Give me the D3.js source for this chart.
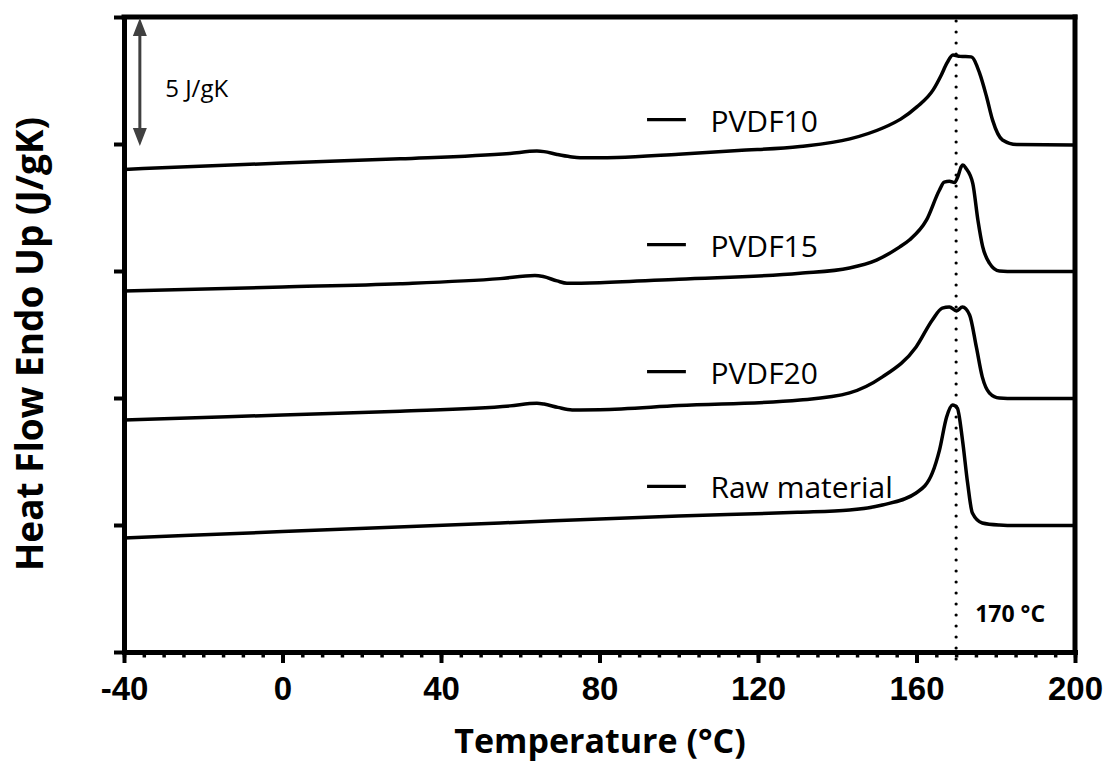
<!DOCTYPE html>
<html>
<head>
<meta charset="utf-8">
<script src="https://cdn.jsdelivr.net/npm/d3@7"></script>
<style>
  body { margin: 0; background: #fff; }
</style>
</head>
<body>
<div class="chart"></div>
<script>
// DSC heating curves: [temperature °C, heat flow J/gK (stacked offsets)]
const pvdf10 = [
  [-40, 19.0], [0, 19.25], [29.7, 19.42], [57.4, 19.63], [64.2, 19.72], [66, 19.7],
  [69.3, 19.59], [72.6, 19.5], [75.1, 19.46], [80.1, 19.46], [84.4, 19.47], [100, 19.6],
  [115, 19.74], [130.6, 19.9], [143.2, 20.2], [151.5, 20.63], [156, 20.98], [160.1, 21.46],
  [164.2, 22.13], [166.2, 22.7], [167.7, 23.19], [169.2, 23.5], [171, 23.45], [173.8, 23.43],
  [175.9, 22.8], [177.7, 21.85], [179.2, 20.94], [181.7, 20.16], [185.3, 19.98], [200, 19.96]
];
const pvdf15 = [
  [-40, 14.21], [0, 14.37], [29.7, 14.5], [54.9, 14.7], [63.7, 14.82], [65.8, 14.78],
  [69.3, 14.61], [71.8, 14.52], [80.1, 14.54], [100, 14.68], [130.6, 14.91], [143.1, 15.12],
  [149.9, 15.43], [155.7, 15.94], [158.2, 16.22], [162.5, 17.0], [165.8, 18.19], [167.0, 18.5],
  [168.3, 18.53], [169.6, 18.48], [170.4, 18.7], [171.3, 19.11], [171.7, 19.17], [172.5, 19.04],
  [174.2, 18.45], [175.5, 17.0], [176.7, 15.96], [178.4, 15.31], [180.9, 15.0], [185, 14.98],
  [200, 14.98]
];
const pvdf20 = [
  [-40, 9.13], [0, 9.33], [29.7, 9.48], [57.4, 9.69], [64.2, 9.79], [66, 9.76],
  [69.5, 9.63], [73.1, 9.53], [80.1, 9.54], [100, 9.7], [130.6, 9.92], [143.1, 10.2],
  [151.4, 10.83], [159.9, 12.01], [164, 13.07], [166.5, 13.54], [168.3, 13.58], [170.1, 13.43],
  [171.6, 13.58], [173.4, 13.27], [175.1, 12.01], [176.6, 10.83], [178.4, 10.2], [180.9, 10.0],
  [185, 9.98], [200, 9.98]
];
const rawMaterial = [
  [-40, 4.49], [0, 4.74], [55, 5.08], [100, 5.35], [130, 5.5], [143.1, 5.59],
  [151.4, 5.79], [159.9, 6.26], [164, 7.05], [165.8, 7.95], [167.6, 9.25], [169.1, 9.72],
  [170.3, 9.6], [171.6, 8.35], [172.9, 6.65], [174.1, 5.47], [176.6, 5.08], [180.9, 5.0],
  [185, 4.98], [200, 4.98]
];
const seriesNames = ["PVDF10", "PVDF15", "PVDF20", "Raw material"];
const xTicks = [-40, 0, 40, 80, 120, 160, 200];
const yTicks = [0, 5, 10, 15, 20, 25];

const series = [pvdf10, pvdf15, pvdf20, rawMaterial];

const margin = {top: 17, right: 32, bottom: 110, left: 124};
const width = 1107 - margin.left - margin.right,
      height = 762 - margin.top - margin.bottom;

const xScale = d3.scaleLinear().domain([-40, 200]).range([0, width]);
const yScale = d3.scaleLinear().domain([0, 25]).range([height, 0]);

const svg = d3.select(".chart").append("svg")
    .attr("width", width + margin.left + margin.right)
    .attr("height", height + margin.top + margin.bottom)
  .append("g")
    .attr("transform", "translate(" + margin.left + "," + margin.top + ")");

// minor x ticks
svg.append("g")
    .attr("transform", "translate(0," + height + ")")
    .call(d3.axisBottom(xScale).tickValues(d3.range(-40, 201, 5)).tickSize(5.5).tickSizeOuter(0).tickFormat(""))
    .call(g => g.select(".domain").remove())
    .selectAll(".tick line").attr("stroke", "black").attr("stroke-width", 3.5);

// major x axis
svg.append("g")
    .attr("class", "x-axis")
    .attr("transform", "translate(0," + height + ")")
    .call(d3.axisBottom(xScale).tickValues(xTicks).tickSize(11).tickSizeOuter(0).tickFormat(d => String(d)))
    .call(g => g.select(".domain").attr("stroke-width", 5).attr("stroke-linecap", "square"))
    .call(g => g.selectAll(".tick line").attr("stroke-width", 4))
    .selectAll(".tick text")
      .attr("y", 48)
      .attr("dy", null)
      .attr("fill", "black")
      .attr("font-family", "Liberation Sans, Arial, sans-serif")
      .attr("font-weight", "bold")
      .attr("font-size", 33);

// y axis (no labels)
svg.append("g")
    .attr("class", "y-axis")
    .call(d3.axisLeft(yScale).tickValues(yTicks).tickSize(10).tickSizeOuter(0).tickFormat(""))
    .call(g => g.select(".domain").attr("stroke-width", 5).attr("stroke-linecap", "square"))
    .call(g => g.selectAll(".tick line").attr("stroke-width", 4));

// top and right frame
svg.append("line")
    .attr("x1", 0).attr("x2", width).attr("y1", 0).attr("y2", 0)
    .attr("stroke", "black").attr("stroke-width", 5).attr("stroke-linecap", "square");
svg.append("line")
    .attr("x1", width).attr("x2", width).attr("y1", 0).attr("y2", height)
    .attr("stroke", "black").attr("stroke-width", 5).attr("stroke-linecap", "square");

// 170 °C marker
svg.append("line")
    .attr("x1", xScale(170)).attr("x2", xScale(170))
    .attr("y1", 4).attr("y2", height + 8)
    .attr("stroke", "black")
    .attr("stroke-width", 3.2)
    .attr("stroke-linecap", "round")
    .attr("stroke-dasharray", "0,11");

svg.append("text")
    .attr("x", xScale(174.8))
    .attr("y", height - 30)
    .attr("font-family", "Open Sans, sans-serif")
    .attr("font-weight", "bold")
    .attr("font-size", 23)
    .text("170 °C");

// curves
const line = d3.line()
    .x(d => xScale(d[0]))
    .y(d => yScale(d[1]))
    .curve(d3.curveMonotoneX);

svg.append("g")
    .attr("fill", "none")
    .attr("stroke", "black")
    .attr("stroke-width", 3.5)
    .attr("stroke-linejoin", "round")
  .selectAll("path")
  .data(series)
  .join("path")
    .attr("d", line);

// labels, sitting just above each curve's right baseline
const labelLift = [1.0, 1.06, 1.06, 1.54];
const label = svg.append("g")
  .selectAll("g")
  .data(seriesNames)
  .join("g")
    .attr("transform", (d, i) => {
      const s = series[i];
      return "translate(0," + yScale(s[s.length - 1][1] + labelLift[i]) + ")";
    });
label.append("line")
    .attr("x1", xScale(92)).attr("x2", xScale(101.8))
    .attr("stroke", "black").attr("stroke-width", 3.2);
label.append("text")
    .attr("x", xScale(108))
    .attr("y", 12)
    .attr("font-family", "Open Sans, sans-serif")
    .attr("font-size", 30)
    .text(d => d);

// scale bar: 5 J/gK
const ax = xScale(-36), aTop = yScale(25) + 1, aBot = yScale(20) + 2;
svg.append("line")
    .attr("x1", ax).attr("x2", ax)
    .attr("y1", aTop + 16).attr("y2", aBot - 16)
    .attr("stroke", "#404040").attr("stroke-width", 3);
svg.append("path")
    .attr("fill", "#404040")
    .attr("d", "M" + ax + "," + aTop + "L" + (ax + 7) + "," + (aTop + 18) + "L" + (ax - 7) + "," + (aTop + 18) + "Z" +
               "M" + ax + "," + aBot + "L" + (ax + 7) + "," + (aBot - 18) + "L" + (ax - 7) + "," + (aBot - 18) + "Z");
svg.append("text")
    .attr("x", xScale(-29.6))
    .attr("y", yScale(22.5) + 16)
    .attr("font-family", "Open Sans, sans-serif")
    .attr("font-size", 24)
    .text("5 J/gK");

// axis titles
svg.append("text")
    .attr("x", 600 - margin.left)
    .attr("y", height + 101)
    .attr("text-anchor", "middle")
    .attr("font-family", "Open Sans, sans-serif")
    .attr("font-weight", "bold")
    .attr("font-size", 34)
    .text("Temperature (°C)");

svg.append("text")
    .attr("transform", "translate(" + (43 - margin.left) + "," + (344 - margin.top) + ") rotate(-90)")
    .attr("text-anchor", "middle")
    .attr("font-family", "Open Sans, sans-serif")
    .attr("font-weight", "bold")
    .attr("font-size", 37)
    .text("Heat Flow Endo Up (J/gK)");
</script>
</body>
</html>
